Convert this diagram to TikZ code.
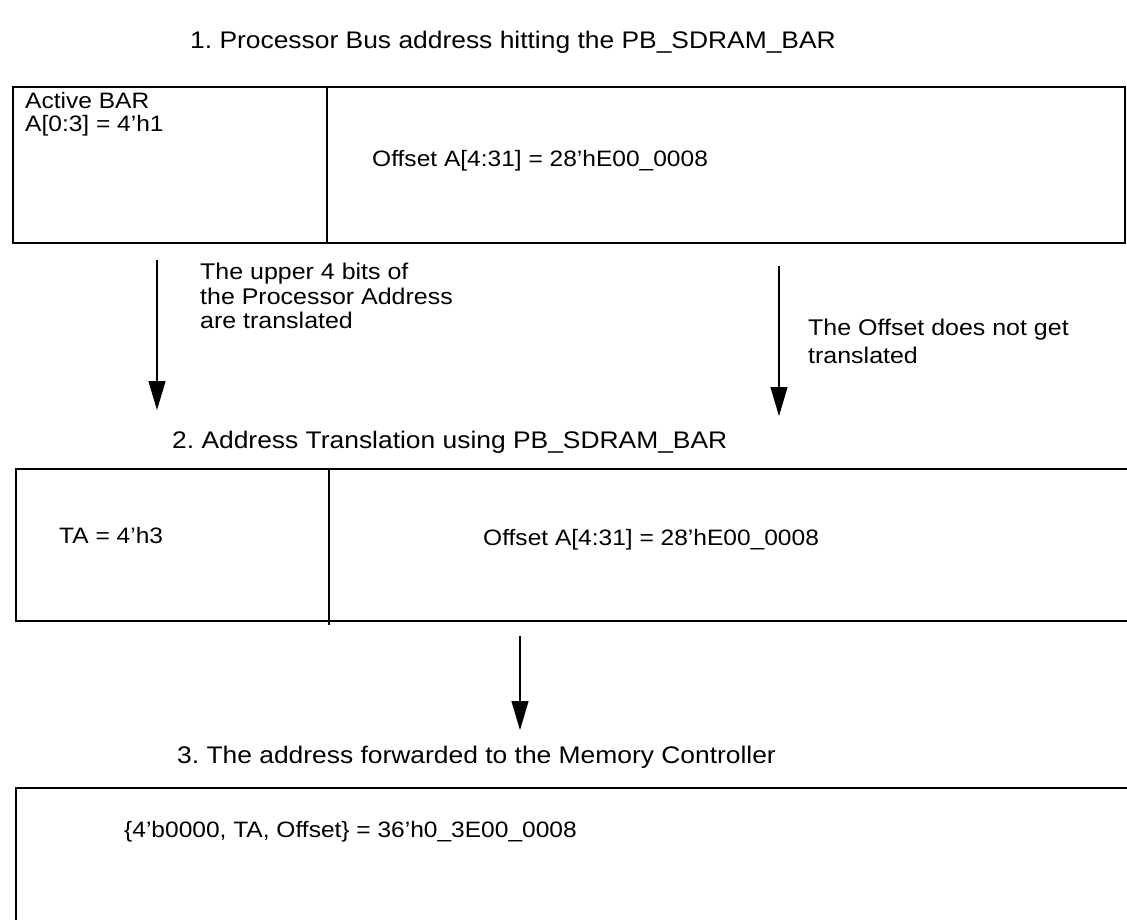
\documentclass[tikz,border=0pt]{standalone}
\usepackage{fontspec}
\setmainfont[FakeStretch = 1.1]{Liberation Sans}
\usetikzlibrary{arrows.meta}
\frenchspacing

\begin{document}
\begin{tikzpicture}[x = 1pt, y = -1pt, font=\fontsize{22.7}{28}\selectfont]
	\tikzstyle{boxLine} = [line width = 1.8pt, line cap = rect]
	\tikzstyle{flowArrow} = [line width = 1.2pt, -{Triangle[length = 29pt, width = 17pt]}]
	\tikzstyle{labelStyle} = [inner sep = 0pt, anchor = west]
	\tikzstyle{titleStyle} = [labelStyle, font = \fontsize{24}{28}\selectfont]
	\tikzstyle{fieldStyle} = [labelStyle, font = \fontsize{22.3}{23}\selectfont]
	\useasboundingbox[fill = white] (0,0) rectangle (1127,919);
	% titles
	\node[titleStyle] (t1) at (190,42) {1. Processor Bus address hitting the PB\_SDRAM\_BAR};
	\node[titleStyle] (t2) at (172,442) {2. Address Translation using PB\_SDRAM\_BAR};
	\node[titleStyle] (t3) at (177,757) {3. The address forwarded to the Memory Controller};
	% box 1
	\coordinate (b1nw) at (13,87);
	\coordinate (b1se) at (1125,243);
	\draw[boxLine] (b1nw) rectangle (b1se);
	\draw[boxLine] (327,87) -- (327,243);
	\node[fieldStyle, align = left] (bar) at (25,114) {Active BAR\\A[0:3] = 4'h1};
	\node[fieldStyle] (off1) at (372,161) {Offset A[4:31] = 28'hE00\_0008};
	% box 2
	\draw[boxLine] (1127,469) -- (16,469) -- (16,621) -- (1127,621);
	\draw[boxLine] (329,469) -- (329,624);
	\node[fieldStyle] (ta) at (59,536) {TA = 4'h3};
	\node[fieldStyle] (off2) at (483,540) {Offset A[4:31] = 28'hE00\_0008};
	% box 3
	\draw[boxLine] (1127,788) -- (16,788) -- (16,925);
	\node[fieldStyle] (full) at (124,832) {\{4'b0000, TA, Offset\} = 36'h0\_3E00\_0008};
	% arrows
	\coordinate (a1s) at (157,260);
	\coordinate (a1e) at (157,410);
	\coordinate (a2s) at (779,266);
	\coordinate (a2e) at (779,416);
	\coordinate (a3s) at (520,636);
	\coordinate (a3e) at (520,730);
	\draw[flowArrow] (a1s) -- (a1e);
	\draw[flowArrow] (a2s) -- (a2e);
	\draw[flowArrow] (a3s) -- (a3e);
	\node[labelStyle, align = left, font = \fontsize{22.7}{24.5}\selectfont] (upper) at (200,296) {The upper 4 bits of\\the Processor Address\\are translated};
	\node[labelStyle, align = left] (keep) at (808,341) {The Offset does not get\\translated};
\end{tikzpicture}
\end{document}
